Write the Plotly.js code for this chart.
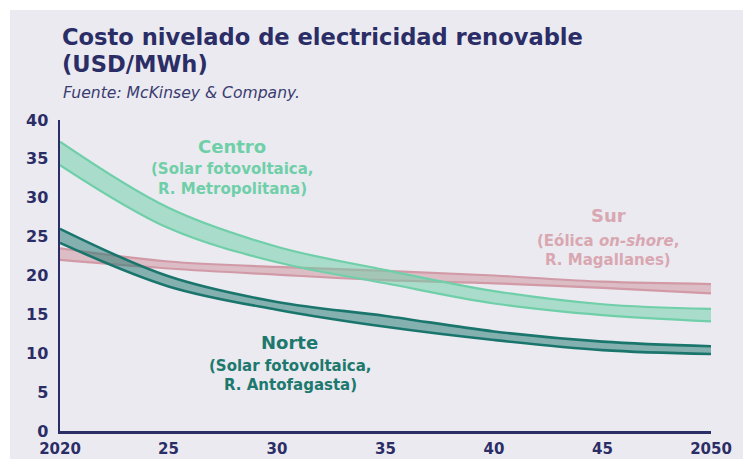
<!DOCTYPE html>
<html>
<head>
<meta charset="utf-8">
<script src="https://cdn.plot.ly/plotly-3.0.1.min.js"></script>
<style>html,body{margin:0;padding:0;background:#fff;}#chart{width:743px;height:459px;}</style>
</head>
<body>
<div id="chart"></div>
<script>
// Data (USD/MWh)
var years = [2020, 2025, 2030, 2035, 2040, 2045, 2050];
var centroHigh = [37.2, 28.7, 23.7, 20.7, 18.0, 16.3, 15.7];
var centroLow  = [34.2, 26.1, 21.7, 19.0, 16.4, 14.9, 14.1];
var norteHigh  = [26.0, 19.9, 16.6, 14.8, 12.8, 11.5, 10.9];
var norteLow   = [24.2, 18.6, 15.6, 13.4, 11.7, 10.4, 9.9];
var surHigh    = [23.5, 21.8, 21.1, 20.6, 20.0, 19.2, 18.9];
var surLow     = [22.0, 20.9, 20.1, 19.4, 19.0, 18.4, 17.7];
var yTicks = [0, 5, 10, 15, 20, 25, 30, 35, 40];
var xTicks = [2020, 2025, 2030, 2035, 2040, 2045, 2050];
var xTickText = ['2020', '25', '30', '35', '40', '45', '2050'];

var navy = '#2b2d66';
var FONT = '"DejaVu Sans", Verdana, sans-serif';

function band(low, high, lineColor, fillColor, width, name) {
  return [
    {x: years, y: low, type: 'scatter', mode: 'lines', name: name + ' min',
     line: {color: lineColor, width: width, shape: 'spline'}, hoverinfo: 'skip', showlegend: false},
    {x: years, y: high, type: 'scatter', mode: 'lines', name: name + ' max', fill: 'tonexty',
     fillcolor: fillColor, line: {color: lineColor, width: width, shape: 'spline'}, hoverinfo: 'skip', showlegend: false}
  ];
}

var data = [].concat(
  band(surLow, surHigh, '#d19aa6', 'rgba(207,152,163,0.55)', 2.2, 'Sur'),
  band(centroLow, centroHigh, '#6fcfa8', 'rgba(111,207,168,0.52)', 2.2, 'Centro'),
  band(norteLow, norteHigh, '#1a766d', 'rgba(29,120,110,0.5)', 2.6, 'Norte')
);

// plot area in pixels: x 60..711, y 120..431
var L = 60, R = 711, T = 120, B = 431;
function px(x) { return (x - L) / (R - L); }
function py(y) { return (B - y) / (B - T); }

function ann(text, x, y, size, color, weight, anchor, italic) {
  return {text: text, xref: 'paper', yref: 'paper', x: px(x), y: py(y),
    xanchor: anchor || 'center', yanchor: 'middle', showarrow: false,
    font: {family: FONT, size: size, color: color, weight: weight || 700, style: italic ? 'italic' : 'normal'}};
}

var cC = '#6fcfa8', nC = '#1d786e', sC = '#d9a7b1';
var annotations = [
  ann('Costo nivelado de electricidad renovable', 60, 37, 22.6, navy, 700, 'left'),
  ann('(USD/MWh)', 60, 64, 22.6, navy, 700, 'left'),
  ann('Fuente: McKinsey &amp; Company.', 61, 93, 15.6, '#3a3c70', 400, 'left', true),
  ann('Centro', 232, 146, 18, cC, 700),
  ann('(Solar fotovoltaica,', 232, 169, 15, cC, 700),
  ann('R. Metropolitana)', 232, 189, 15, cC, 700),
  ann('Norte', 289, 342, 18, nC, 700),
  ann('(Solar fotovoltaica,', 290, 366, 15, nC, 700),
  ann('R. Antofagasta)', 290, 385, 15, nC, 700),
  ann('Sur', 608, 215, 18, sC, 700),
  ann('(Eólica <i>on-shore</i>,', 608, 241, 15, sC, 700),
  ann('R. Magallanes)', 608, 260, 15, sC, 700)
];

var layout = {
  width: 743, height: 459,
  margin: {l: L, r: 743 - R, t: T, b: 459 - B, pad: 0},
  paper_bgcolor: '#ffffff',
  plot_bgcolor: 'rgba(0,0,0,0)',
  showlegend: false,
  font: {family: FONT, color: navy},
  xaxis: {range: [2020, 2050], tickvals: xTicks, ticktext: xTickText, showgrid: false, zeroline: false,
    showline: true, linecolor: navy, linewidth: 2.5, ticks: '', ticklabelstandoff: 2,
    tickfont: {family: FONT, size: 15, color: navy, weight: 700}, fixedrange: true},
  yaxis: {range: [0, 40], tickvals: yTicks, showgrid: false, zeroline: false,
    showline: true, linecolor: navy, linewidth: 2.5, ticks: '', ticklabelstandoff: 6,
    tickfont: {family: FONT, size: 16, color: navy, weight: 700}, fixedrange: true},
  shapes: [{type: 'rect', xref: 'paper', yref: 'paper', layer: 'below',
    x0: px(10), x1: px(760), y0: py(480), y1: py(10), fillcolor: '#ebeaf0', line: {width: 0}}],
  annotations: annotations
};

Plotly.newPlot('chart', data, layout, {displayModeBar: false, staticPlot: true});
</script>
</body>
</html>
